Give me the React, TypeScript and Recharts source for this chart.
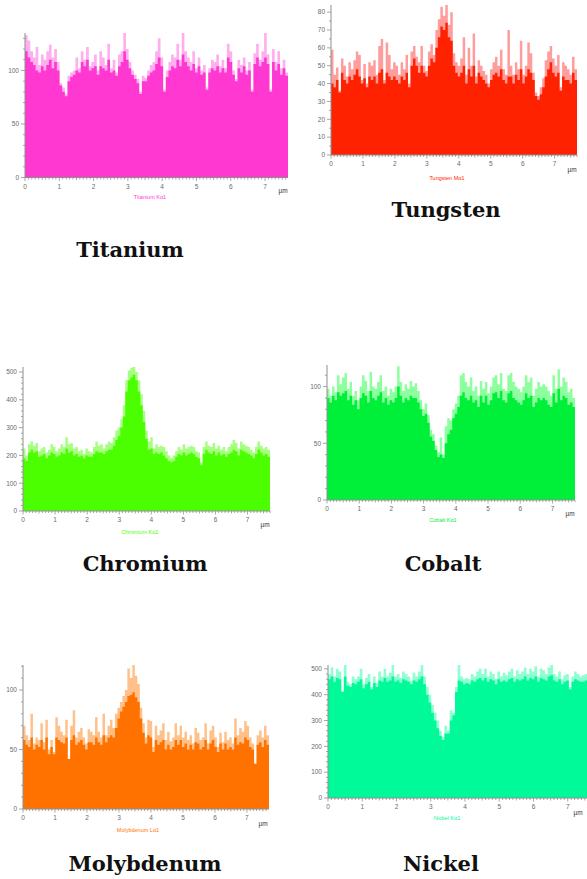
import { AreaChart, Area, XAxis, YAxis } from 'recharts'

// line-scan counts, 100 steps across the scan length
const titaniumHi = [
  133, 128, 118, 112, 122, 105, 115, 110, 118, 124, 112, 120, 108,
  88, 84, 78, 95,
  98, 100, 112, 102,
  118, 110, 122, 104, 108, 115,
  100, 118, 112, 105, 125, 102, 110, 98, 115,
  118, 135, 120,
  108, 100, 96, 92,
  80, 95,
  93, 100, 105, 108,
  118, 130, 112,
  82,
  100, 108, 115, 112,
  125, 110, 135, 118,
  112, 108, 118, 102, 112,
  100, 105, 84, 102, 110, 108, 115,
  104, 110, 102, 125,
  118, 100, 92, 110,
  105, 112, 100, 108, 82, 116,
  125, 110, 118, 136,
  115, 82, 120, 108, 118,
  102, 110, 98, 136,
]
const titaniumLo = [
  118, 112, 108, 105, 100, 98, 104, 100, 105, 110, 102, 108, 100,
  86, 80, 76, 90,
  94, 96, 100, 98,
  108, 104, 110, 100, 102, 104,
  96, 104, 102, 100, 110, 98, 100, 95, 104,
  108, 118, 110,
  102, 96, 92, 88,
  78, 90,
  90, 95, 98, 100,
  106, 112, 104,
  80,
  94, 100, 104, 102,
  110, 104, 115, 108,
  104, 100, 106, 98, 104,
  96, 98, 82, 98, 102, 100, 104,
  98, 102, 98, 112,
  108, 96, 90, 102,
  98, 104, 96, 100, 80, 106,
  112, 104, 108, 112,
  106, 80, 108, 100, 106,
  96, 102, 95, 116,
]

const tungstenHi = [
  59, 45, 49, 36, 54, 50, 44,
  52, 48, 53, 58, 56, 42,
  51, 40, 52, 50, 53, 45, 61,
  65, 42, 63, 56, 48, 52,
  50, 45, 52, 48, 56, 40,
  58, 61, 55, 52,
  61, 50, 47, 58,
  62, 56, 70,
  76, 83, 78, 84, 73,
  80, 57, 52,
  50, 54, 66, 45, 60, 50,
  68, 44, 53, 50,
  47, 45, 40, 48, 52,
  55, 50, 59, 48, 45, 70,
  50, 45, 52, 48, 64,
  45, 50, 63, 57, 46,
  35, 33, 38, 43,
  53, 58, 61, 54, 50,
  56, 38, 52, 50, 48,
  45, 55, 48, 51,
]
const tungstenLo = [
  40, 38, 42, 35, 46, 42, 40,
  44, 42, 45, 48, 44, 40,
  43, 38, 44, 42, 44, 40, 46,
  48, 40, 46, 44, 42, 44,
  42, 40, 44, 42, 46, 38,
  50, 54, 50, 46,
  50, 46, 44, 50,
  54, 52, 60,
  66, 72, 70, 74, 66,
  64, 50, 46,
  44, 46, 50, 40, 48, 44,
  50, 40, 46, 44,
  42, 40, 38, 42, 45,
  46, 44, 48, 42, 40, 44,
  44, 40, 45, 42, 48,
  40, 44, 48, 46, 42,
  33, 31, 34, 38,
  44, 48, 52, 46, 44,
  46, 36, 44, 42, 42,
  40, 46, 42, 44,
]

const chromiumHi = [
  225, 200, 240, 250, 235, 245, 215,
  225, 230, 210, 220, 240, 230,
  215, 225, 240, 230, 265, 240, 245,
  225, 230, 215, 220, 205, 225,
  215, 210, 230, 250, 235, 240,
  225, 240, 250, 245,
  265, 290, 300,
  330, 380, 470,
  505, 515, 520, 500, 470,
  420, 360, 290,
  250, 265, 225,
  240, 230, 235, 230, 215,
  200, 190, 200, 215,
  230, 220, 240, 225, 230,
  235, 230, 215, 210, 175,
  230, 250, 235, 230, 245,
  225, 235, 220, 230, 215,
  230, 240, 255, 245, 225,
  250, 240, 235, 230, 220,
  210, 230, 250, 235, 225,
  230, 220, 225,
]
const chromiumLo = [
  190, 180, 210, 220, 210, 215, 195,
  200, 205, 190, 200, 210, 205,
  195, 200, 210, 205, 225, 210, 215,
  200, 205, 195, 200, 190, 200,
  195, 195, 205, 215, 210, 210,
  205, 215, 220, 220,
  235, 255, 270,
  300, 340, 430,
  470, 480, 490, 470, 430,
  380, 320, 260,
  220, 225, 205,
  210, 205, 210, 200, 190,
  180, 175, 180, 195,
  205, 200, 210, 200, 205,
  210, 205, 195, 190, 165,
  205, 220, 210, 205, 215,
  200, 210, 200, 205, 195,
  205, 210, 220, 215, 200,
  220, 215, 210, 205, 200,
  190, 205, 220, 210, 200,
  205, 195, 200,
]

const cobaltHi = [
  98, 92, 100, 95, 110, 102, 108,
  112, 98, 104, 92, 96, 88,
  100, 110, 105, 96, 113, 100, 98,
  104, 110, 96, 100, 92, 98,
  95, 100, 118, 104, 96, 102,
  98, 105, 100, 103,
  96, 88, 80,
  85, 75, 62,
  58, 48, 42, 55, 40,
  65, 72, 70,
  80, 85, 92,
  110, 112, 104, 100, 108,
  96, 100, 92, 105,
  98, 104, 94, 100, 108,
  110, 102, 112, 98, 96,
  110, 112, 104, 100, 98,
  95, 100, 110, 104, 108,
  92, 98, 104, 100, 102,
  100, 96, 92, 110, 98,
  115, 100, 108, 104, 95,
  98, 90, 92,
]
const cobaltLo = [
  90, 86, 92, 88, 95, 92, 94,
  96, 88, 92, 84, 88, 80,
  90, 94, 92, 86, 96, 90, 88,
  92, 95, 86, 90, 84, 88,
  86, 90, 100, 92, 86, 90,
  88, 92, 90, 90,
  86, 80, 74,
  76, 68, 56,
  52, 44, 38, 40, 37,
  50, 58, 62,
  72, 76, 82,
  92, 95, 90, 88, 92,
  86, 88, 82, 92,
  86, 92, 84, 88, 94,
  95, 90, 96, 88, 86,
  94, 96, 90, 88, 86,
  84, 88, 94, 90, 92,
  82, 86, 90, 88, 90,
  88, 84, 82, 94, 86,
  98, 88, 92, 90, 84,
  86, 82, 84,
]

const molybdenumHi = [
  70, 62, 58, 80, 55, 60, 58,
  72, 56, 75, 50, 58, 48,
  77, 70, 65, 62, 75, 42, 70,
  83, 60, 65, 68, 60, 55,
  67, 65, 62, 77, 65, 60,
  80, 62, 70, 75,
  68, 80, 85,
  90, 95, 100,
  118, 110, 121, 112, 105,
  85, 72, 60,
  75, 74, 52,
  70, 62, 66, 72, 58,
  65, 57, 60, 72,
  62, 70, 60, 65, 58,
  62, 55, 68, 64, 58,
  60, 72, 55, 66, 70,
  60, 52, 64, 56, 65,
  58, 60, 55, 76, 62,
  68, 65, 74, 70, 60,
  55, 38, 62, 66, 60,
  70, 62, 78,
]
const molybdenumLo = [
  58, 54, 52, 60, 50, 54, 52,
  58, 50, 60, 46, 52, 46,
  60, 58, 56, 55, 60, 42, 58,
  62, 54, 56, 58, 54, 50,
  56, 56, 54, 60, 56, 54,
  62, 56, 60, 62,
  60, 68, 76,
  82, 86, 90,
  95, 96, 98, 94, 90,
  76, 64, 55,
  62, 60, 48,
  58, 54, 56, 58, 50,
  54, 50, 52, 58,
  54, 58, 52, 55, 50,
  54, 50, 56, 55, 50,
  52, 58, 50, 55, 58,
  52, 48, 55, 50, 55,
  50, 52, 50, 60, 54,
  56, 55, 60, 58, 52,
  50, 38, 54, 56, 52,
  58, 54, 62,
]

const nickelHi = [
  480, 505, 470, 500, 490, 415, 515,
  450, 440, 470, 460, 470, 500,
  440, 465, 480, 430, 470, 445, 490,
  470, 500, 470, 485, 515, 470,
  480, 465, 490, 480, 470, 455,
  485, 470, 490, 515,
  470, 430, 400,
  360, 330, 300,
  260, 235, 280, 260, 340,
  330, 430, 515,
  470, 460, 465,
  460, 480, 470, 490, 500,
  480, 500, 470, 490,
  480, 460, 490, 470, 485,
  475, 490, 500, 470, 495,
  480, 490, 505, 480, 500,
  490, 510, 470, 500, 495,
  480, 505, 515, 480, 470,
  490, 460, 475, 480, 430,
  470, 490, 480, 470, 475,
  480, 470, 485,
]
const nickelLo = [
  460, 470, 450, 465, 460, 410, 470,
  435, 430, 445, 440, 450, 460,
  425, 440, 450, 420, 445, 430, 455,
  450, 465, 450, 455, 470, 450,
  455, 445, 460, 455, 450, 440,
  455, 450, 460, 470,
  440, 400, 370,
  330, 300, 270,
  240, 225, 250, 250, 300,
  320, 410, 455,
  450, 440, 445,
  440, 455, 450, 460, 465,
  455, 465, 450, 460,
  455, 440, 460, 450, 455,
  450, 460, 465, 450, 460,
  455, 460, 470, 455, 465,
  460, 470, 450, 465, 460,
  455, 470, 475, 455, 450,
  460, 440, 450, 455, 420,
  450, 460, 455, 450, 450,
  455, 450, 460,
]

const titles = ['Titanium', 'Tungsten', 'Chromium', 'Cobalt', 'Molybdenum', 'Nickel']
const captions = ['Titanium Kα1', 'Tungsten Mα1', 'Chromium Kα1', 'Cobalt Kα1', 'Molybdenum Lα1', 'Nickel Kα1']

interface Panel {
  hi: number[]
  lo: number[]
  dark: string
  light: string
  left: number
  right: number
  top: number
  bottom: number
  xMax: number
  yMax: number
  yMajor: number
  yMinor: number
  titleX: number
  titleY: number
  capX: number
  capY: number
  umX: number
  umY: number
}

const panels: Panel[] = [
  { hi: titaniumHi, lo: titaniumLo, dark: '#ff38d2', light: '#ffaeee', left: 25, right: 288, top: 32.5, bottom: 177, xMax: 7.67, yMax: 135, yMajor: 50, yMinor: 10, titleX: 130, titleY: 257, capX: 150, capY: 199, umX: 283, umY: 193 },
  { hi: tungstenHi, lo: tungstenLo, dark: '#ff2200', light: '#ff9c9c', left: 331, right: 577, top: 5, bottom: 155, xMax: 7.7, yMax: 84, yMajor: 10, yMinor: 5, titleX: 446, titleY: 217, capX: 447, capY: 180, umX: 572, umY: 172 },
  { hi: chromiumHi, lo: chromiumLo, dark: '#4cff00', light: '#a6ff80', left: 23, right: 270, top: 367, bottom: 511, xMax: 7.7, yMax: 518, yMajor: 100, yMinor: 20, titleX: 145, titleY: 571, capX: 140, capY: 534, umX: 265, umY: 527 },
  { hi: cobaltHi, lo: cobaltLo, dark: '#00f03a', light: '#8dff9e', left: 327, right: 575, top: 365, bottom: 500, xMax: 7.7, yMax: 119, yMajor: 50, yMinor: 10, titleX: 443, titleY: 571, capX: 443, capY: 522, umX: 570, umY: 516 },
  { hi: molybdenumHi, lo: molybdenumLo, dark: '#ff7200', light: '#ffc08a', left: 23, right: 269, top: 665, bottom: 809, xMax: 7.69, yMax: 121, yMajor: 50, yMinor: 10, titleX: 145, titleY: 871, capX: 138, capY: 832, umX: 263, umY: 826 },
  { hi: nickelHi, lo: nickelLo, dark: '#00fa9a', light: '#8dffd0', left: 328, right: 590, top: 665, bottom: 798, xMax: 7.65, yMax: 515, yMajor: 100, yMinor: 20, titleX: 441, titleY: 871, capX: 447, capY: 820, umX: 578, umY: 815 },
]

const AXIS = '#8f8f8f'
const LABEL = '#6a6a6a'
const Y_W = 30
const X_H = 20

function isMultiple(v: number, step: number) {
  const r = v / step
  return Math.abs(r - Math.round(r)) < 1e-6
}

function XTick(props: any) {
  const { x, y, payload } = props
  const v = payload.value as number
  const major = isMultiple(v, 1)
  const half = isMultiple(v, 0.5)
  const len = major ? 3.5 : half ? 2.5 : 2
  return (
    <g>
      <line x1={x} x2={x} y1={y} y2={y + len} stroke={AXIS} strokeWidth={0.8} />
      {major && (
        <text x={x} y={y + 11} textAnchor="middle" fontSize={6.5} fill={LABEL} fontFamily="Liberation Sans, Arial, sans-serif">
          {Math.round(v)}
        </text>
      )}
    </g>
  )
}

function makeYTick(majorStep: number) {
  return function YTick(props: any) {
    const { x, y, payload } = props
    const v = payload.value as number
    const major = isMultiple(v, majorStep)
    const len = major ? 4 : 2
    return (
      <g>
        <line x1={x - len} x2={x} y1={y} y2={y} stroke={AXIS} strokeWidth={0.8} />
        {major && (
          <text x={x - 6} y={y + 2.3} textAnchor="end" fontSize={6.5} fill={LABEL} fontFamily="Liberation Sans, Arial, sans-serif">
            {v}
          </text>
        )}
      </g>
    )
  }
}

function ScanChart({ p }: { p: Panel }) {
  const n = p.hi.length
  const data = p.hi.map((h, i) => ({ x: (i * p.xMax) / (n - 1), hi: h, lo: p.lo[i] }))
  const xTicks: number[] = []
  for (let i = 0; i * 0.1 <= p.xMax + 1e-9; i++) xTicks.push(i / 10)
  const yTicks: number[] = []
  for (let v = 0; v <= p.yMax; v += p.yMinor) yTicks.push(v)
  const plotW = p.right - p.left
  const plotH = p.bottom - p.top
  const YTick = makeYTick(p.yMajor)
  return (
    <div style={{ position: 'absolute', left: p.left - Y_W, top: p.top - 5 }}>
      <AreaChart
        width={plotW + Y_W + 5}
        height={plotH + 5 + X_H}
        data={data}
        margin={{ top: 5, right: 5, left: 0, bottom: 0 }}
      >
        <XAxis
          dataKey="x"
          type="number"
          domain={[0, p.xMax]}
          ticks={xTicks}
          interval={0}
          tickSize={0}
          tickMargin={0}
          tickLine={false}
          height={X_H}
          stroke={AXIS}
          tick={<XTick />}
          allowDataOverflow
        />
        <YAxis
          type="number"
          domain={[0, p.yMax]}
          ticks={yTicks}
          interval={0}
          tickSize={0}
          tickMargin={0}
          tickLine={false}
          width={Y_W}
          stroke={AXIS}
          tick={<YTick />}
          allowDataOverflow
        />
        <Area
          type="stepAfter"
          dataKey="hi"
          stroke="none"
          fill={p.light}
          fillOpacity={1}
          isAnimationActive={false}
          dot={false}
          activeDot={false}
        />
        <Area
          type="stepAfter"
          dataKey="lo"
          stroke="none"
          fill={p.dark}
          fillOpacity={1}
          isAnimationActive={false}
          dot={false}
          activeDot={false}
        />
      </AreaChart>
    </div>
  )
}

export default function App() {
  return (
    <div style={{ position: 'absolute', left: 0, top: 0, width: 587, height: 879, overflow: 'hidden', background: '#fff' }}>
      {panels.map((p, i) => (
        <ScanChart key={titles[i]} p={p} />
      ))}
      <svg width={587} height={879} style={{ position: 'absolute', left: 0, top: 0, pointerEvents: 'none' }}>
        {panels.map((p, i) => (
          <g key={titles[i]}>
            <text x={p.titleX} y={p.titleY} textAnchor="middle" fontFamily="DejaVu Serif, serif" fontWeight="bold" fontSize={21} fill="#111">
              {titles[i]}
            </text>
            <text x={p.capX} y={p.capY} textAnchor="middle" fontFamily="Liberation Sans, Arial, sans-serif" fontSize={5.5} fill={p.dark}>
              {captions[i]}
            </text>
            <text x={p.umX} y={p.umY} textAnchor="middle" fontFamily="Liberation Sans, Arial, sans-serif" fontSize={6.5} fill="#333">
              µm
            </text>
          </g>
        ))}
      </svg>
    </div>
  )
}
